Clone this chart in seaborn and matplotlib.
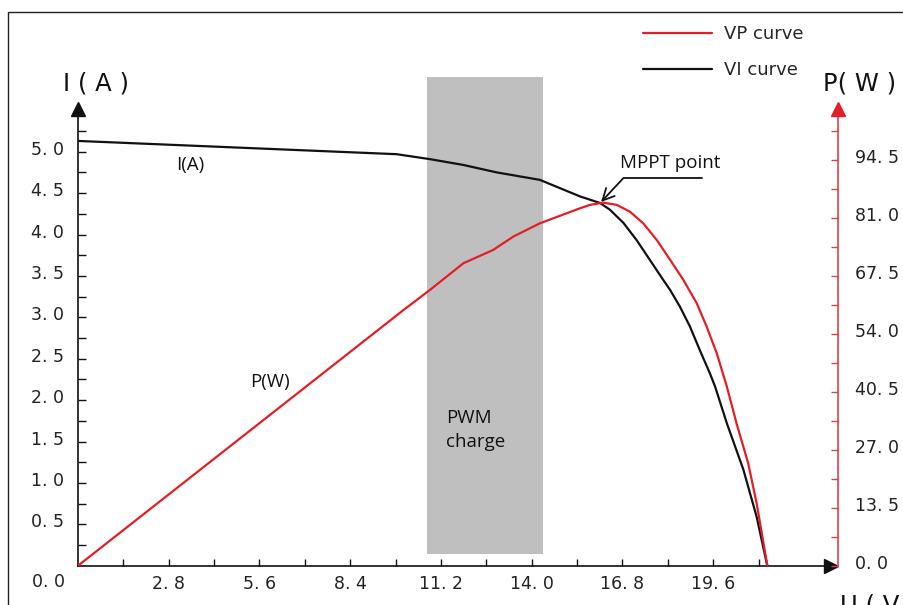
import matplotlib
matplotlib.use("Agg")
import matplotlib.pyplot as plt
import matplotlib.transforms as mtransforms
from matplotlib.patches import Rectangle
import seaborn as sns

# ---------------- data ----------------
vi_voltage = [0.0, 9.83, 10.86, 11.89, 12.92, 14.25, 15.49, 15.80, 16.11, 16.41,
              16.83, 17.24, 17.65, 18.06, 18.27, 18.57, 18.88, 19.19, 19.50, 19.66,
              20.02, 20.53, 20.94, 21.25, 21.27]
vi_current = [5.13, 4.97, 4.91, 4.84, 4.75, 4.66, 4.46, 4.42, 4.38, 4.30,
              4.14, 3.93, 3.69, 3.45, 3.33, 3.13, 2.89, 2.60, 2.32, 2.16,
              1.72, 1.16, 0.59, 0.03, 0.0]

vp_voltage = [0.0, 10.04, 10.86, 11.89, 12.81, 13.43, 14.25, 15.49, 15.80, 16.21,
              16.62, 17.03, 17.44, 17.86, 18.27, 18.68, 19.09, 19.40, 19.71,
              20.02, 20.32, 20.68, 20.94, 21.27]
vp_power = [0.0, 59.5, 64.2, 70.4, 73.5, 76.6, 79.7, 83.2, 84.0, 84.5,
            84.0, 82.4, 79.7, 75.8, 71.2, 66.5, 61.1, 55.6, 49.4,
            41.7, 33.1, 23.8, 14.5, 0.0]

x_major = [2.8, 5.6, 8.4, 11.2, 14.0, 16.8, 19.6]
x_minor = [1.4, 4.2, 7.0, 9.8, 12.6, 15.4, 18.2, 21.0]
i_major = [0.5, 1.0, 1.5, 2.0, 2.5, 3.0, 3.5, 4.0, 4.5, 5.0]
i_minor = [0.25, 0.75, 1.25, 1.75, 2.25, 2.75, 3.25, 3.75, 4.25, 4.75, 5.25]
p_major = [0.0, 13.5, 27.0, 40.5, 54.0, 67.5, 81.0, 94.5]
p_minor = [6.75, 20.25, 33.75, 47.25, 60.75, 74.25, 87.75, 101.25]

pwm_range = [10.78, 14.35]      # V
pwm_current = [0.14, 5.9]       # A (vertical extent of band)
mppt_voltage = 16.11
mppt_current = 4.38

series_labels = ["VP curve", "VI curve"]

# ---------------- style ----------------
sns.set_theme(style="white")
plt.rcParams["font.family"] = ["DejaVu Sans"]

RED = "#e31e26"
RED_SPINE = "#d9434f"
BLACK = "#111111"
GRAY = "#bfbfbf"

W, H = 904, 605
fig = plt.figure(figsize=(W / 100, H / 100), dpi=100)
fig.patch.set_facecolor("white")


def fx(x):
    return x / W


def fy(y):
    return 1 - y / H


ax_left, ax_right, ax_bottom, ax_top = 78, 838, 565.7, 109
ax = fig.add_axes([fx(ax_left), fy(ax_bottom),
                   (ax_right - ax_left) / W, (ax_bottom - ax_top) / H])
ax.set_facecolor("none")
ax.set_xlim(0, (ax_right - ax_left) / 32.41)
ax.set_ylim(0, (ax_bottom - ax_top) / 82.8)
ax2 = ax.twinx()
ax2.set_ylim(0, (ax_bottom - ax_top) / 4.296)

fmt = lambda v: f"{v:.1f}".replace(".", ". ")

# PWM band
ax.add_patch(Rectangle((pwm_range[0], pwm_current[0]), pwm_range[1] - pwm_range[0],
                       pwm_current[1] - pwm_current[0], facecolor=GRAY,
                       edgecolor="none", clip_on=False, zorder=0))

# curves
sns.lineplot(x=vi_voltage, y=vi_current, ax=ax, color=BLACK, linewidth=1.6,
             sort=False, estimator=None, legend=False, zorder=3)
sns.lineplot(x=vp_voltage, y=vp_power, ax=ax2, color=RED, linewidth=1.6,
             sort=False, estimator=None, legend=False, zorder=3)

# spines
for s in ["top", "right"]:
    ax.spines[s].set_visible(False)
for s in ["left", "bottom"]:
    ax.spines[s].set_color(BLACK)
    ax.spines[s].set_linewidth(1.2)
for s in ["top", "left", "bottom"]:
    ax2.spines[s].set_visible(False)
ax2.spines["right"].set_color(RED_SPINE)
ax2.spines["right"].set_linewidth(1.2)

# ticks
ax.set_xticks(x_major)
ax.set_xticklabels([fmt(v) for v in x_major])
ax.set_xticks(x_minor, minor=True)
ax.set_yticks(i_major)
ax.set_yticklabels([fmt(v) for v in i_major])
ax.set_yticks(i_minor, minor=True)
ax2.set_yticks(p_major)
ax2.set_yticklabels([fmt(v) for v in p_major])
ax2.set_yticks(p_minor, minor=True)

ax.tick_params(axis="x", which="both", direction="in", length=5, width=1,
               color=BLACK, pad=7, labelsize=12.5, labelcolor="#222222", bottom=True)
ax.tick_params(axis="y", which="both", direction="in", length=6, width=1,
               color=BLACK, pad=10, labelsize=12.5, labelcolor="#222222", left=True)
ax2.tick_params(axis="y", which="both", direction="in", length=5, width=1,
                color=RED_SPINE, pad=12.5, labelsize=12.5, labelcolor="#222222", right=True)
ax.grid(False)
ax2.grid(False)

off = mtransforms.ScaledTranslation(0, 0.04, fig.dpi_scale_trans)
for lab in ax.get_yticklabels() + ax2.get_yticklabels():
    lab.set_transform(lab.get_transform() + off)

# axis arrows
ax.plot([0], [1], marker="^", color=BLACK, markersize=10, transform=ax.transAxes,
        clip_on=False, zorder=5)
ax2.plot([1], [1], marker="^", color=RED, markersize=10, transform=ax2.transAxes,
         clip_on=False, zorder=5)
ax.plot([0.991], [0], marker=">", color=BLACK, markersize=10, transform=ax.transAxes,
        clip_on=False, zorder=5)

# axis titles
fig.text(fx(63), fy(83), "I ( A )", fontsize=17.5, ha="left", va="center", color="#111111")
fig.text(fx(823), fy(83), "P( W )", fontsize=17.5, ha="left", va="center", color="#111111")
fig.text(fx(840), fy(594), "U ( V )", fontsize=17.5, ha="left", va="top", color="#111111")
fig.text(fx(65), fy(582), "0. 0", fontsize=12.5, ha="right", va="center", color="#222222")

# in-plot labels
ax.text((190 - 78) / 32.41, (565.7 - 165) / 82.8, "I(A)", fontsize=13.5, ha="center",
        va="center", family=["Open Sans", "DejaVu Sans"], color="#111111")
ax.text((270 - 78) / 32.41, (565.7 - 381.7) / 82.8, "P(W)", fontsize=13.5, ha="center",
        va="center", family=["Open Sans", "DejaVu Sans"], color="#111111")
ax.text((446 - 78) / 32.41, (565.7 - 430) / 82.8, "PWM\ncharge", fontsize=13.5, ha="left",
        va="center", linespacing=1.4, family=["Open Sans", "DejaVu Sans"], color="#111111")

# MPPT annotation
fig.text(fx(670), fy(163), "MPPT point", fontsize=13.5, ha="center", va="center",
         family=["Open Sans", "DejaVu Sans"], color="#111111")
ax.annotate("", xy=(mppt_voltage, mppt_current), xycoords="data",
            xytext=(702, H - 178), textcoords="figure pixels",
            arrowprops=dict(arrowstyle="->,head_length=0.7,head_width=0.35",
                            connectionstyle="angle,angleA=0,angleB=47,rad=0",
                            color=BLACK, lw=1.3, shrinkA=0, shrinkB=1),
            zorder=6)

# legend
fig.legend([ax2.lines[0], ax.lines[0]], series_labels, loc="upper left",
           bbox_to_anchor=(fx(643), fy(25)), frameon=False, fontsize=13,
           handlelength=3.8, handletextpad=0.7, labelspacing=1.0,
           borderpad=0, borderaxespad=0)

# outer frame
fig.add_artist(Rectangle((fx(8), fy(640)), (940 - 8) / W, (640 - 12) / H,
                         transform=fig.transFigure, fill=False,
                         edgecolor="#222222", linewidth=1.0))

fig.savefig("out.png", dpi=100)
